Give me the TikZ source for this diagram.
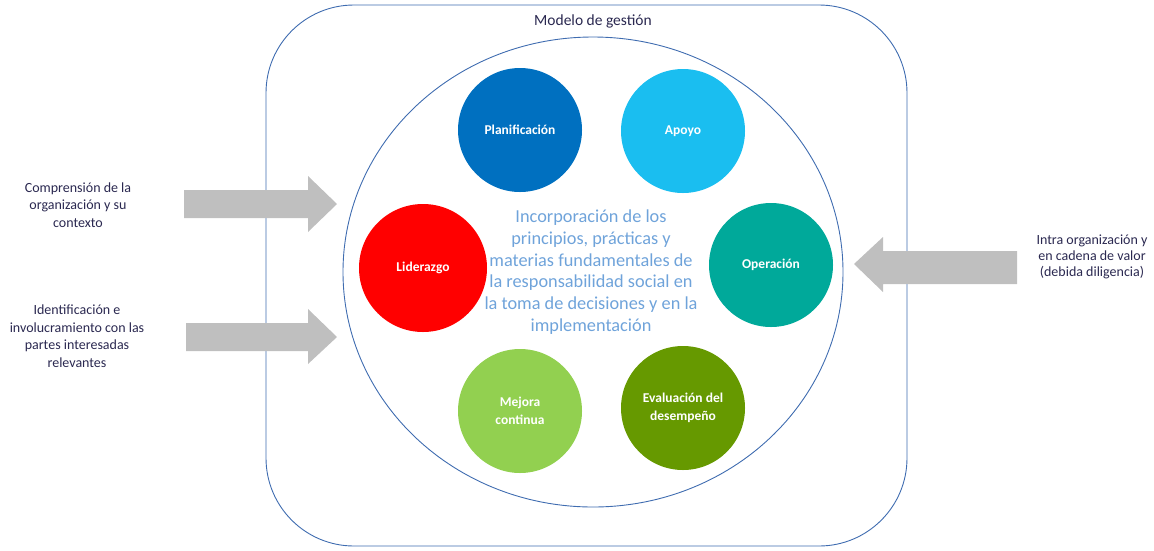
\documentclass[tikz,border=0pt]{standalone}
\usepackage{fontspec}
\setmainfont{Carlito}
\definecolor{txt}{HTML}{2A2850}
\definecolor{boxline}{HTML}{3F6CB0}
\definecolor{arrowc}{HTML}{BFBFBF}
\definecolor{centertxt}{HTML}{6FA3DA}
\definecolor{cplan}{HTML}{0070C0}
\definecolor{capoyo}{HTML}{1ABEF0}
\definecolor{clider}{HTML}{FF0000}
\definecolor{coper}{HTML}{00A99A}
\definecolor{cmejora}{HTML}{92D050}
\definecolor{ceval}{HTML}{669900}
\begin{document}
\begin{tikzpicture}[x=1pt,y=-1pt,
  frame/.style={draw=boxline, line width=0.9pt},
  circ/.style={circle, minimum size=124pt, inner sep=0pt, text=white, align=center,
    font=\fontsize{13.5}{18}\selectfont\bfseries},
  lab/.style={text=txt, align=center, font=\fontsize{14}{17.5}\selectfont},
  bigarrow/.style={fill=arrowc}]
\useasboundingbox (0,0) rectangle (1154,550);
\draw[frame, rounded corners=88pt] (266,5) rectangle (907,546);
\node[text=txt, font=\fontsize{15.5}{17}\selectfont] (title) at (593,21) {Modelo de gestión};
\draw[frame] (593,272) ellipse [x radius=250, y radius=235];
\node[circ, fill=cplan] (plan) at (520,130) {Planificación};
\node[circ, fill=capoyo] (apoyo) at (683,131) {Apoyo};
\node[circ, fill=clider, minimum size=128pt] (lider) at (423,268) {Liderazgo};
\node[circ, fill=coper] (oper) at (771,265) {Operación};
\node[circ, fill=cmejora] (mejora) at (520,411) {Mejora\\continua};
\node[circ, fill=ceval] (eval) at (683,408) {Evaluación del\\desempeño};
\node[text=centertxt, align=center, font=\fontsize{18.3}{21.7}\selectfont] (center) at (591,272)
  {Incorporación de los\\principios, prácticas y\\materias fundamentales de\\la responsabilidad social en\\la toma de decisiones y en la\\implementación};
\fill[bigarrow] (184,190) -- (308,190) -- (308,176) -- (337,204) -- (308,232) -- (308,218) -- (184,218) -- cycle;
\fill[bigarrow] (186,323) -- (308,323) -- (308,309) -- (337,337) -- (308,364) -- (308,351) -- (186,351) -- cycle;
\fill[bigarrow] (1017,251) -- (883,251) -- (883,237) -- (854,264) -- (883,292) -- (883,284) -- (1017,284) -- cycle;
\node[lab] (l1) at (78,205) {Comprensión de la\\organización y su\\contexto};
\node[lab] (l2) at (77,336) {Identificación e\\involucramiento con las\\partes interesadas\\relevantes};
\node[lab, font=\fontsize{14}{15.8}\selectfont] (r1) at (1092,257) {Intra organización y\\en cadena de valor\\(debida diligencia)};
\end{tikzpicture}
\end{document}
